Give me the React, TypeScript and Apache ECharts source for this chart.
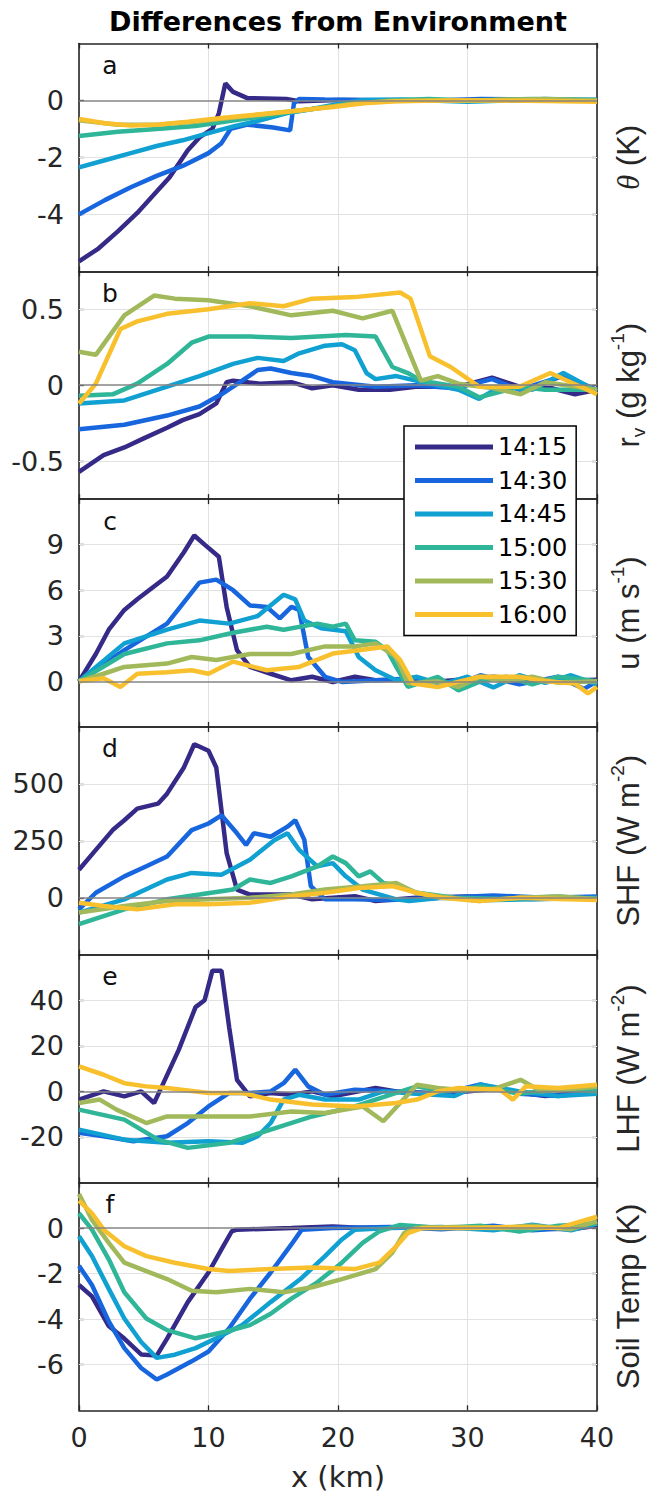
import React, { useEffect, useRef } from "react";
import * as echarts from "echarts";

const TIMES = ["14:15", "14:30", "14:45", "15:00", "15:30", "16:00"];
const COLORS = ["#352a87", "#1766de", "#10a0d2", "#2fb597", "#a1b95a", "#f9c02e"];

const X_TICKS = [0, 10, 20, 30, 40];

// Panel a: theta (K)
const a1415 = [[0,-5.65],[1.5,-5.2],[3,-4.6],[4.5,-3.95],[6,-3.2],[7,-2.7],[8.4,-1.75],[9.3,-1.3],[10.3,-1.0],[10.8,-0.45],[11.3,0.6],[11.9,0.3],[13,0.08],[16,0.05],[17,-0.03],[20,0.02],[25,0.0],[30,0.02],[35,0.0],[40,0.02]];
const a1430 = [[0,-4.0],[2,-3.5],[4,-3.05],[6,-2.65],[8,-2.3],[10,-1.85],[11,-1.5],[11.7,-1.0],[13,-0.85],[15,-0.95],[16.3,-1.05],[16.6,-0.1],[17,0.05],[19,0.03],[22,0.02],[28,0.0],[31,0.05],[35,0.03],[40,0.0]];
const a1445 = [[0,-2.35],[2,-2.1],[4,-1.85],[6,-1.6],[8,-1.4],[10,-1.15],[12,-0.9],[14,-0.7],[16,-0.45],[18,-0.3],[20,-0.12],[22,0.02],[25,0.03],[30,-0.05],[33,0.0],[36,0.05],[40,0.02]];
const a1500 = [[0,-1.25],[3,-1.1],[6,-1.0],[9,-0.9],[12,-0.7],[15,-0.5],[18,-0.3],[21,-0.12],[24,0.0],[27,0.05],[30,0.0],[35,0.05],[40,0.02]];
const a1530 = [[0,-0.7],[3,-0.85],[6,-0.85],[9,-0.75],[12,-0.6],[15,-0.45],[18,-0.3],[21,-0.12],[24,-0.02],[28,0.0],[32,0.02],[36,0.05],[40,0.0]];
const a1600 = [[0,-0.65],[2,-0.8],[4,-0.88],[6,-0.85],[8.4,-0.75],[11,-0.62],[13.2,-0.52],[16,-0.4],[19.6,-0.23],[22,-0.1],[24.5,-0.03],[28,0.0],[32,0.0],[36,-0.02],[40,-0.05]];

// Panel b: r_v (g/kg)
const b1415 = [[0,-0.57],[1.9,-0.46],[3.5,-0.41],[5,-0.35],[6.8,-0.28],[8,-0.23],[9.3,-0.19],[10.6,-0.12],[11.4,0.02],[11.9,0.03],[14,0.01],[16.4,0.02],[18,-0.02],[19.6,0.0],[21.6,-0.03],[24,-0.03],[26,-0.01],[29.3,-0.01],[31.9,0.05],[34,-0.01],[36.5,-0.02],[38.3,-0.06],[40,-0.03]];
const b1430 = [[0,-0.29],[3.5,-0.26],[6.8,-0.2],[9.3,-0.14],[11,-0.06],[12.6,0.03],[13.8,0.1],[14.8,0.11],[16.4,0.08],[18,0.06],[19.6,0.02],[22.9,-0.01],[26,0.0],[29,-0.02],[31.9,0.04],[34,-0.03],[37.4,0.06],[40,-0.03]];
const b1445 = [[0,-0.12],[3.5,-0.1],[6.8,-0.01],[9.3,0.06],[11.9,0.14],[13.8,0.18],[15.8,0.16],[17,0.21],[19,0.26],[20.3,0.27],[21.3,0.23],[22.2,0.08],[22.9,0.04],[24.5,0.06],[26,0.03],[29.3,-0.03],[30.9,-0.09],[32.5,-0.01],[35,-0.03],[37.4,0.08],[40,-0.04]];
const b1500 = [[0,-0.07],[2.6,-0.06],[4.5,0.01],[6.8,0.14],[8.7,0.28],[10,0.32],[13.2,0.32],[16.4,0.31],[20.6,0.33],[22.9,0.32],[24.2,0.12],[25.4,0.08],[26.4,0.03],[29.3,-0.01],[30.9,-0.08],[34,-0.01],[36,-0.03],[40,-0.03]];
const b1530 = [[0,0.22],[1.3,0.2],[3.5,0.46],[5.8,0.59],[7.4,0.57],[10,0.56],[13.2,0.52],[16.4,0.46],[19.6,0.49],[21.9,0.44],[24.2,0.49],[26.4,0.03],[27.7,0.06],[29.3,0.01],[32,-0.02],[34.1,-0.06],[36,0.02],[40,-0.03]];
const b1600 = [[0,-0.12],[1.3,0.01],[3.2,0.37],[4.5,0.42],[6.8,0.47],[10,0.5],[13.2,0.54],[15.8,0.52],[18,0.57],[21.3,0.58],[24.8,0.61],[25.6,0.57],[27.1,0.19],[28.7,0.12],[30.9,-0.01],[34,-0.01],[36.4,0.08],[40,-0.06]];

// Panel c: u (m/s)
const c1415 = [[0,0],[1.3,1.8],[2.3,3.4],[3.5,4.7],[4.5,5.4],[6.8,6.9],[8.1,8.5],[8.9,9.6],[9.7,9.0],[10.8,8.2],[11.4,4.9],[12.2,2.05],[13.2,0.95],[14.8,0.5],[16.4,0.07],[18,0.3],[19.6,-0.04],[21.3,0.3],[22.9,0.07],[25,0.1],[28,0.0],[32,0.3],[36,0.0],[40,0.1]];
const c1430 = [[0,0],[3.5,2.05],[6.8,3.8],[9.3,6.5],[10.6,6.7],[11.9,6.0],[13.2,5.0],[14.5,4.9],[15.5,4.15],[16.4,4.9],[17,4.7],[17.7,1.6],[19,0.3],[20.3,-0.04],[22.9,0.07],[26,0.2],[29,-0.3],[31,0.4],[34,-0.2],[37,0.3],[39,-0.5],[40,0.0]];
const c1445 = [[0,0],[3.5,2.5],[6.8,3.4],[9.3,4.0],[11.6,3.8],[13.8,4.3],[15.8,5.7],[16.7,5.4],[17.4,4.0],[18.7,3.5],[20.6,3.3],[21.6,1.6],[22.9,0.73],[24.5,0.07],[26.1,0.3],[28,-0.2],[30,0.3],[32,-0.4],[34,0.4],[36,-0.1],[38,0.4],[40,-0.2]];
const c1500 = [[0,0],[3.5,1.8],[6.8,2.5],[9.3,2.7],[11.9,3.2],[14.5,3.6],[15.8,3.4],[18.4,3.8],[19.6,3.6],[20.6,3.8],[21.3,2.7],[22.9,2.6],[23.8,2.05],[24.5,0.95],[25.4,-0.37],[27.7,0.3],[29.3,-0.6],[31,0.0],[33,0.3],[35,-0.2],[37,0.3],[40,0.0]];
const c1530 = [[0,0],[1.9,0.5],[3.5,0.95],[6.8,1.17],[8.7,1.6],[10.6,1.4],[13.2,1.8],[16.4,1.8],[19,2.3],[21.3,2.3],[22.9,2.5],[24.5,1.6],[25.4,-0.15],[27.7,0.0],[29.3,-0.37],[31,0.3],[33,0.0],[35,0.3],[37,-0.1],[40,0.0]];
const c1600 = [[0,0],[1.9,0.2],[3.2,-0.37],[4.5,0.5],[6.8,0.6],[8.7,0.73],[10,0.5],[11.9,1.3],[14.5,0.73],[17,0.95],[19.6,1.83],[21.6,2.05],[23.8,2.3],[24.8,1.4],[25.8,-0.15],[27.7,-0.37],[30.9,0.3],[34,0.3],[36,0.0],[38.3,-0.15],[39.3,-0.8],[40,-0.37]];

// Panel d: SHF (W/m2)
const d1415 = [[0,123],[1.3,210],[2.6,297],[3.5,340],[4.5,391],[6.1,413],[6.8,457],[8.1,572],[8.9,674],[10,645],[10.6,572],[11.4,196],[12.2,36],[13.2,14],[16.4,14],[18,-7],[19.6,0],[21.3,7],[22.9,-14],[26,0],[30,5],[35,-5],[40,0]];
const d1430 = [[0,-51],[1.3,22],[3.5,94],[5.2,138],[6.8,181],[8.7,297],[10,326],[11,362],[12.2,283],[12.9,232],[13.5,283],[14.8,268],[16.1,312],[16.7,340],[17.4,254],[17.9,51],[19,-7],[21.3,-7],[24,-10],[28,0],[32,10],[36,0],[40,5]];
const d1445 = [[0,-65],[3.5,-7],[6.8,80],[8.7,109],[11,101],[13.2,167],[15.1,254],[16.1,283],[17,210],[18.4,138],[19.6,152],[20.6,94],[21.9,36],[24.5,-7],[25.5,-14],[28,0],[32,-10],[36,-5],[40,0]];
const d1500 = [[0,-116],[3.5,-51],[6.8,-7],[9.3,14],[11.9,36],[13.2,80],[14.8,65],[16.4,94],[18.4,138],[19.6,181],[20.6,152],[21.6,94],[22.5,116],[23.5,65],[24.8,51],[26.1,22],[29,0],[33,-5],[37,5],[40,-5]];
const d1530 = [[0,-65],[3.5,-36],[6.8,-14],[10,-7],[13.2,0],[16.4,14],[19,36],[21.9,51],[24.5,65],[26,22],[27.7,7],[30.9,-14],[34,0],[37,5],[40,-5]];
const d1600 = [[0,-22],[1.9,-36],[4.5,-51],[7.4,-29],[10,-29],[13.2,-22],[16.4,7],[19,22],[21.6,43],[24.2,51],[26.1,22],[28,0],[30.9,-14],[34,0],[37,-5],[40,-10]];

// Panel e: LHF (W/m2)
const e1415 = [[0,-3.6],[1.9,0],[3.5,-2.2],[4.8,0],[5.8,-5.1],[6.4,2.2],[7.7,18.2],[9,37],[9.7,40],[10.3,53],[11,53],[11.6,28],[12.2,5.1],[13.2,-2.2],[14.8,-0.7],[16.4,-1.5],[18,0],[19.6,-2.2],[22.9,1.5],[24.5,0],[28,-1],[32,1],[36,-2],[40,0]];
const e1430 = [[0,-18.2],[1.9,-19.7],[4.2,-21.9],[6.8,-19.7],[8.4,-13.9],[10,-6.6],[11.6,-0.7],[13.2,-0.7],[14.8,0],[15.8,3.6],[16.7,9.5],[17.7,2.2],[19,-1.5],[21.3,0.7],[24.5,0],[28,-1],[31,3],[34,-1],[37,-2],[40,0]];
const e1445 = [[0,-16.8],[3.5,-21.2],[6.8,-22.6],[10,-21.9],[12.6,-22.6],[13.8,-19.7],[14.8,-13.9],[15.8,-3.6],[17,-1.5],[19,-3.6],[21.6,-3.6],[23.5,0],[26,-1],[29,-2],[31,3],[34,0],[37,-2],[40,-1]];
const e1500 = [[0,-8],[3.5,-12.4],[6.1,-21.2],[8.4,-24.8],[11.6,-22.6],[14.8,-16.8],[18,-11],[21.3,-6.6],[24.5,-0.7],[26.1,2.2],[28,0],[31,2],[34,-1],[37,1],[40,0]];
const e1530 = [[0,-5.1],[1.6,-3.6],[2.9,-8],[5.2,-13.9],[6.8,-11],[10,-11],[13.2,-11],[16.4,-8.8],[19,-9.5],[21.9,-6.6],[23.5,-13.1],[24.8,-5.1],[26.1,2.9],[27.7,1.5],[29.3,0.7],[32,1],[34.1,5.1],[35.7,0],[38,1],[40,2]];
const e1600 = [[0,11],[1.9,7.3],[3.5,3.6],[5.2,2.2],[6.8,1.5],[10,-0.7],[12.6,-0.7],[14.8,-3.6],[18,-5.8],[21.3,-6.6],[24.5,-5.1],[26.1,-3.6],[27.7,0],[29.3,1.5],[32.5,0.7],[33.5,-3.6],[34.5,2.2],[37,1.5],[40,2.9]];

// Panel f: Soil Temp (K)
const f1415 = [[0,-2.5],[1,-3.0],[2.3,-4.3],[3.5,-4.85],[4.8,-5.55],[6,-5.6],[6.8,-4.85],[8.4,-3.25],[10,-1.95],[11,-0.94],[11.8,-0.14],[12.2,-0.07],[16.4,0],[19.6,0.07],[22,0],[26,0.05],[30,0],[34,0],[38,-0.05],[40,0.1]];
const f1430 = [[0,-1.66],[1,-2.5],[2.3,-4.1],[3.5,-5.27],[4.8,-6.14],[6,-6.65],[6.8,-6.43],[8.7,-5.85],[10,-5.42],[11.6,-4.4],[13.2,-3.1],[14.8,-1.95],[16.4,-0.72],[17.2,-0.07],[19.6,0],[24,0.05],[28,-0.05],[32,0.1],[35,-0.1],[38,0],[40,0.2]];
const f1445 = [[0,-0.36],[1,-1.23],[2.3,-2.67],[3.5,-3.97],[4.8,-5.0],[6,-5.7],[7.4,-5.56],[9,-5.27],[10.6,-4.84],[12.6,-4.26],[14.8,-3.25],[17.1,-2.24],[19,-1.23],[20.3,-0.5],[21.3,-0.07],[24,0],[28,0.05],[32,-0.1],[35,0.15],[38,-0.1],[40,0.2]];
const f1500 = [[0,0.65],[1,-0.07],[2.3,-1.37],[3.5,-2.82],[5.2,-3.97],[6.8,-4.48],[9,-4.84],[11.3,-4.55],[13.2,-4.26],[14.8,-3.76],[16.4,-3.1],[18.4,-2.38],[20.3,-1.52],[21.9,-0.65],[23.2,-0.14],[24.8,0.14],[28,0],[31,0.1],[34,-0.15],[37,0.1],[40,0.2]];
const f1530 = [[0,1.5],[1,0.36],[2.3,-0.65],[3.5,-1.52],[6.8,-2.24],[8.7,-2.75],[10.6,-2.82],[13.2,-2.67],[15.8,-2.82],[18,-2.6],[20.3,-2.24],[22.9,-1.8],[24.2,-1.08],[25.1,-0.22],[26,0],[29,0.05],[32,0],[35,0.1],[38,-0.05],[40,0.3]];
const f1600 = [[0,1.2],[1,0.65],[1.9,-0.07],[3.5,-0.8],[5.2,-1.23],[7.4,-1.52],[10,-1.8],[11.6,-1.88],[14.8,-1.8],[18,-1.73],[21.3,-1.8],[23.2,-1.52],[24.5,-0.8],[25.4,-0.22],[26.5,0],[30,0],[34,0.05],[37,0],[40,0.5]];

const TICKS_A = [-4, -2, 0];
const TICKS_B = [-0.5, 0, 0.5];
const TICKS_C = [0, 3, 6, 9];
const TICKS_D = [0, 250, 500];
const TICKS_E = [-20, 0, 20, 40];
const TICKS_F = [-6, -4, -2, 0];

const PANELS = [
  { letter: "a", min: -6, max: 2, ticks: TICKS_A, data: [a1415, a1430, a1445, a1500, a1530, a1600],
    label: "{th|θ} (K)" },
  { letter: "b", min: -0.75, max: 0.75, ticks: TICKS_B, data: [b1415, b1430, b1445, b1500, b1530, b1600],
    label: "r{sub|v} (g kg{sup|-1})" },
  { letter: "c", min: -3, max: 12, ticks: TICKS_C, data: [c1415, c1430, c1445, c1500, c1530, c1600],
    label: "u (m s{sup|-1})" },
  { letter: "d", min: -250, max: 750, ticks: TICKS_D, data: [d1415, d1430, d1445, d1500, d1530, d1600],
    label: "SHF (W m{sup|-2})" },
  { letter: "e", min: -40, max: 60, ticks: TICKS_E, data: [e1415, e1430, e1445, e1500, e1530, e1600],
    label: "LHF (W m{sup|-2})" },
  { letter: "f", min: -8, max: 2, ticks: TICKS_F, data: [f1415, f1430, f1445, f1500, f1530, f1600],
    label: "Soil Temp (K)" },
];

const LEFT = 79;
const PLOT_W = 518;
const TOP0 = 43.5;
const PH = 227.8;
const AXIS_COLOR = "#262626";
const FONT = "DejaVu Sans";
const LABEL_FONT = "Liberation Sans";

function buildOption() {
  const grid: any[] = [];
  const xAxis: any[] = [];
  const yAxis: any[] = [];
  const series: any[] = [];
  const graphic: any[] = [];

  PANELS.forEach((p, i) => {
    const top = TOP0 + i * PH;
    grid.push({ left: LEFT, width: PLOT_W, top, height: PH, containLabel: false });
    const axisLine = { show: true, onZero: false, lineStyle: { color: AXIS_COLOR, width: 1.6 } };
    const tick = { show: true, inside: true, length: 5, lineStyle: { color: AXIS_COLOR, width: 1.3 } };
    xAxis.push({
      type: "value", gridIndex: i, min: 0, max: 40, interval: 10, position: "bottom",
      axisLine, axisTick: tick,
      axisLabel: { show: i === PANELS.length - 1, margin: 14, fontSize: 27, fontFamily: FONT, color: AXIS_COLOR,
        customValues: X_TICKS },
      splitLine: { show: true, lineStyle: { color: "#e2e2e2", width: 1 } },
    });
    xAxis.push({
      type: "value", gridIndex: i, min: 0, max: 40, interval: 10, position: "top",
      axisLine, axisTick: tick, axisLabel: { show: false }, splitLine: { show: false },
    });
    yAxis.push({
      type: "value", gridIndex: i, min: p.min, max: p.max, position: "left",
      axisLine, axisTick: { ...tick, customValues: p.ticks },
      axisLabel: { show: true, margin: 15, fontSize: 27, fontFamily: FONT, color: AXIS_COLOR, customValues: p.ticks },
      splitLine: { show: false },
    });
    yAxis.push({
      type: "value", gridIndex: i, min: p.min, max: p.max, position: "right",
      axisLine, axisTick: { ...tick, customValues: p.ticks },
      axisLabel: { show: false }, splitLine: { show: false },
    });

    // horizontal grid lines (behind data)
    series.push({
      type: "line", xAxisIndex: 2 * i, yAxisIndex: 2 * i, data: [], silent: true, z: 1,
      markLine: {
        silent: true, z: 1, symbol: ["none", "none"], label: { show: false },
        lineStyle: { color: "#e2e2e2", width: 1, type: "solid" },
        emphasis: { disabled: true },
        data: p.ticks.filter((t) => t !== 0).map((t) => ({ yAxis: t })),
      },
    });

    p.data.forEach((d, j) => {
      series.push({
        type: "line", name: TIMES[j], xAxisIndex: 2 * i, yAxisIndex: 2 * i, data: d,
        showSymbol: false, symbol: "none", z: 3, clip: true,
        lineStyle: { color: COLORS[j], width: 4.5 }, itemStyle: { color: COLORS[j] },
        emphasis: { disabled: true },
      });
    });

    // zero line on top of the data
    series.push({
      type: "line", xAxisIndex: 2 * i, yAxisIndex: 2 * i, data: [], silent: true, z: 5,
      markLine: {
        silent: true, z: 5, symbol: ["none", "none"], label: { show: false },
        lineStyle: { color: "#858585", width: 1.6, type: "solid" },
        emphasis: { disabled: true },
        data: [{ yAxis: 0 }],
      },
    });

    graphic.push({
      type: "text", x: 110, y: top + 22,
      style: { text: p.letter, fontSize: 25, fontFamily: FONT, fill: "#111", align: "center", verticalAlign: "middle" },
    });
    graphic.push({
      type: "text", x: 628, y: top + PH / 2, rotation: Math.PI / 2,
      style: {
        text: p.label, fontSize: 31, fontFamily: LABEL_FONT, fill: AXIS_COLOR, align: "center",
        verticalAlign: "middle", lineHeight: 40,
        rich: {
          th: { fontSize: 31, fontFamily: "Liberation Serif", fontStyle: "italic", fill: AXIS_COLOR, lineHeight: 40 },
          sup: { fontSize: 19, fontFamily: LABEL_FONT, fill: AXIS_COLOR, verticalAlign: "top", lineHeight: 22 },
          sub: { fontSize: 19, fontFamily: LABEL_FONT, fill: AXIS_COLOR, verticalAlign: "bottom", lineHeight: 22 },
        },
      },
    });
  });

  graphic.push({
    type: "text", x: LEFT + PLOT_W / 2, y: 21,
    style: { text: "Differences from Environment", fontSize: 27, fontWeight: "bold", fontFamily: FONT, fill: "#000",
      align: "center", verticalAlign: "middle" },
  });
  graphic.push({
    type: "text", x: LEFT + PLOT_W / 2, y: 1477,
    style: { text: "x (km)", fontSize: 29, fontFamily: FONT, fill: AXIS_COLOR, align: "center", verticalAlign: "middle" },
  });

  return {
    animation: false,
    backgroundColor: "#ffffff",
    grid, xAxis, yAxis, series, graphic,
    legend: {
      data: TIMES, left: 404, top: 426, orient: "vertical", z: 20,
      icon: "rect", itemWidth: 78, itemHeight: 5, itemGap: 9.5,
      padding: [9, 9, 9, 11],
      backgroundColor: "#ffffff", borderColor: "#000000", borderWidth: 1.5,
      selectedMode: false,
      textStyle: { fontSize: 24, fontFamily: FONT, color: "#000", lineHeight: 24 },
    },
  };
}

export default function App() {
  const ref = useRef<HTMLDivElement>(null);
  useEffect(() => {
    if (!ref.current) return;
    const chart = echarts.init(ref.current, null, { renderer: "svg" });
    chart.setOption(buildOption() as any);
    return () => chart.dispose();
  }, []);
  return (
    <div
      ref={ref}
      style={{ position: "absolute", left: 0, top: 0, width: 653, height: 1494, background: "#fff" }}
    />
  );
}
